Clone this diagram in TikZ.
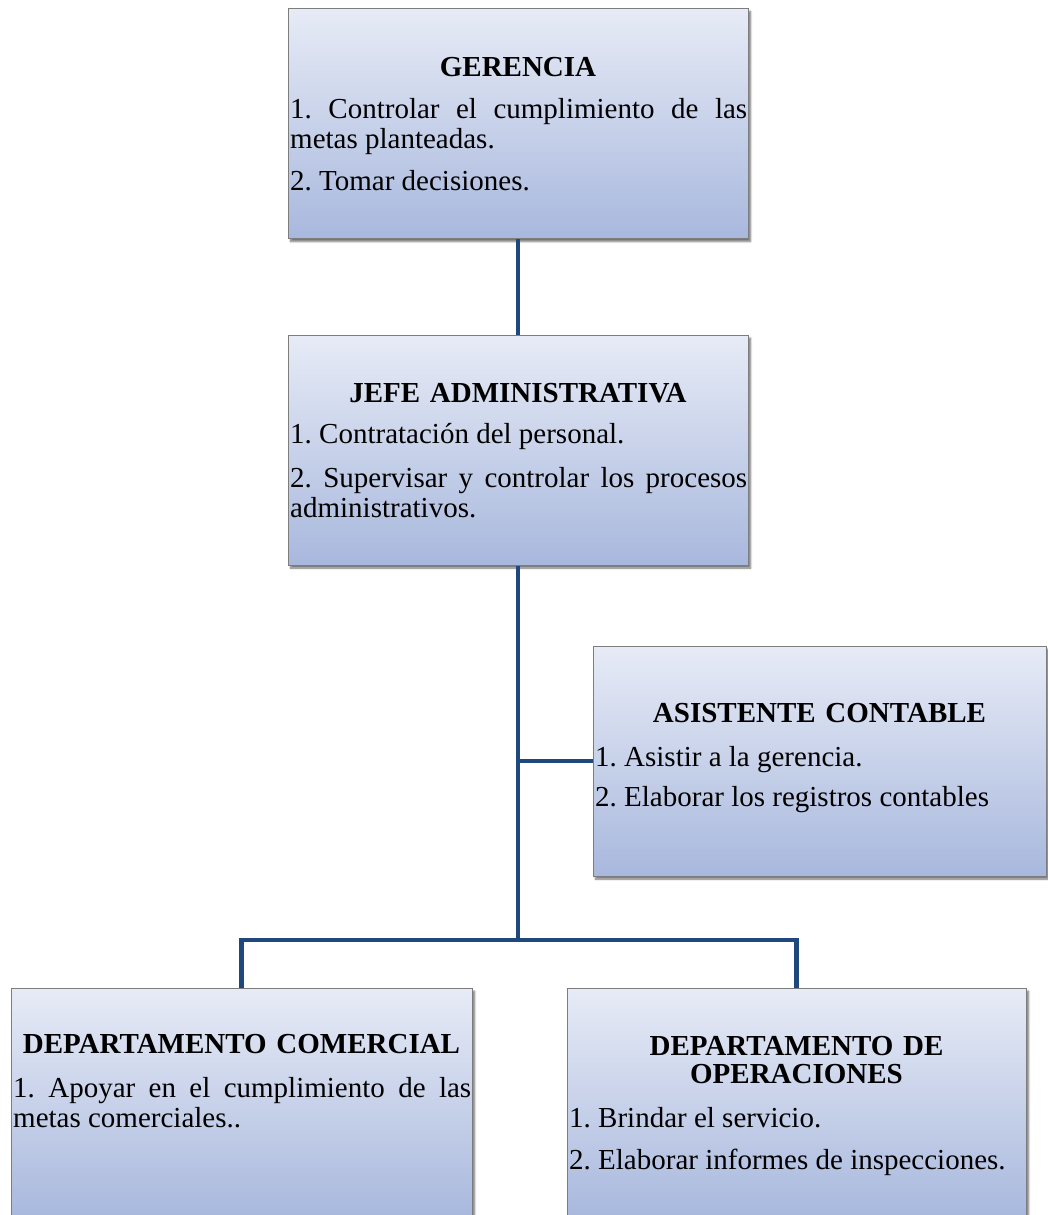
\documentclass[tikz,border=0pt]{standalone}
\usepackage{fontspec}
\setmainfont{Liberation Serif}
\usetikzlibrary{shadows.blur}
\definecolor{connblue}{RGB}{31,73,125}
\definecolor{boxtop}{RGB}{231,235,246}
\definecolor{boxbot}{RGB}{168,184,221}
\definecolor{boxedge}{RGB}{125,125,125}
\frenchspacing
\begin{document}
\begin{tikzpicture}[x=1pt,y=-1pt,
  box/.style={rectangle, draw=boxedge, line width=1pt, top color=boxtop, bottom color=boxbot,
    inner sep=0pt, minimum height=230pt,
    blur shadow={shadow xshift=2.5pt, shadow yshift=-3pt, shadow blur steps=6, shadow opacity=55}},
  titletext/.style={anchor=base, inner sep=0pt, font=\fontsize{29}{28}\selectfont\bfseries, align=center},
  bodytext/.style={anchor=base west, inner sep=0pt, font=\fontsize{29}{30}\selectfont\frenchspacing, align=justify},
  conn/.style={draw=connblue, line width=4.5pt, line join=miter}]
\useasboundingbox (0,0) rectangle (1047,1215);
\hyphenpenalty=10000

% boxes
\node[box, minimum width=460pt] (ger)  at (518,123.5) {};
\node[box, minimum width=460pt] (jefe) at (518,450) {};
\node[box, minimum width=453pt] (asis) at (819.5,761) {};
\node[box, minimum width=461pt] (com)  at (241.5,1103) {};
\node[box, minimum width=459pt] (ope)  at (796.5,1103) {};

% connectors
\coordinate (bus) at (518,940);
\draw[conn] (ger.south) -- (jefe.north);
\draw[conn] (jefe.south) -- (bus);
\draw[conn] (asis.west) -- (asis.west -| jefe.south);
\draw[conn] (com.north) |- (bus) -| (ope.north);

% texts
\node[titletext, text width=460pt] (gert) at (518,77) {GERENCIA};
\node[bodytext, text width=457pt] (gerb) at (290,118) {\setlength\parskip{12pt}1. Controlar el cumplimiento de las\linebreak metas planteadas.\par 2. Tomar decisiones.};

\node[titletext, text width=460pt] (jefet) at (518,402) {JEFE ADMINISTRATIVA};
\node[bodytext, text width=457pt] (jefeb) at (290,443) {\setlength\parskip{14pt}1. Contratación del personal.\par 2. Supervisar y controlar los procesos\linebreak administrativos.};

\node[titletext, text width=453pt] (asist) at (819.5,722) {ASISTENTE CONTABLE};
\node[bodytext, text width=450pt] (asisb) at (595,766) {\setlength\parskip{10pt}1. Asistir a la gerencia.\par 2. Elaborar los registros contables};

\node[titletext, text width=461pt] (comt) at (241.5,1053) {DEPARTAMENTO COMERCIAL};
\node[bodytext, text width=458pt] (comb) at (13,1097) {1. Apoyar en el cumplimiento de las\linebreak metas comerciales..};

\node[titletext, text width=459pt] (opet) at (796.5,1055) {DEPARTAMENTO DE\\OPERACIONES};
\node[bodytext, text width=456pt] (opeb) at (569,1127) {\setlength\parskip{12pt}1. Brindar el servicio.\par 2. Elaborar informes de inspecciones.};
\end{tikzpicture}
\end{document}
